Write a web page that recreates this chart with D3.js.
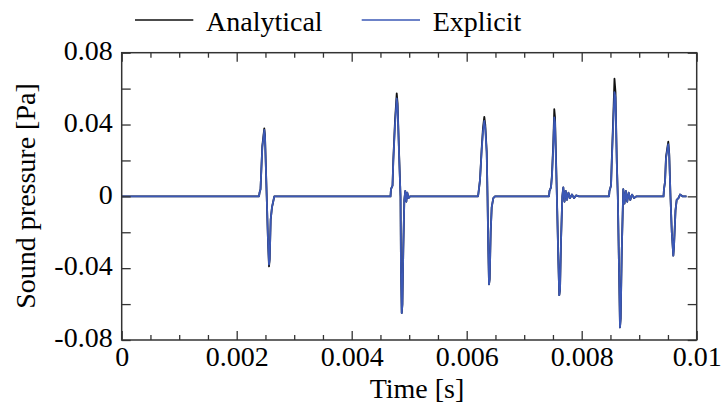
<!DOCTYPE html>
<html>
<head>
<meta charset="utf-8">
<script src="https://cdn.jsdelivr.net/npm/d3@7"></script>
<style>
  body { margin: 0; background: #fff; }
  text { font-family: "Liberation Serif", "Times New Roman", serif; fill: #000; }
</style>
</head>
<body>
<div id="chart"></div>
<script>
"use strict";

// time [s] of each sample, one line per pulse
var timeS = [
  0,
  0.002388, 0.002397, 0.002414, 0.002426, 0.002445, 0.002466, 0.002480, 0.002492,
  0.002522, 0.002544, 0.002562, 0.002574, 0.002591, 0.002614, 0.002628, 0.002654,
  0.004675, 0.004683, 0.004710, 0.004723, 0.004753, 0.004783, 0.004798, 0.004823, 0.004849,
  0.004857, 0.004870, 0.004882, 0.004897, 0.004915, 0.004932, 0.004950, 0.004967, 0.004988, 0.005014,
  0.006197, 0.006205, 0.006231, 0.006261, 0.006283, 0.006306, 0.006323, 0.006348,
  0.006362, 0.006376, 0.006388, 0.006400, 0.006417, 0.006435, 0.006463, 0.006492,
  0.007431, 0.007440, 0.007466, 0.007483, 0.007506, 0.007523, 0.007536, 0.007558, 0.007576, 0.007593,
  0.007610, 0.007623, 0.007640, 0.007663, 0.007680, 0.007701, 0.007722, 0.007744, 0.007770, 0.007797,
  0.007831, 0.007866, 0.007901, 0.007953,
  0.008475, 0.008483, 0.008510, 0.008523, 0.008550, 0.008570, 0.008588, 0.008610, 0.008628, 0.008649,
  0.008666, 0.008678, 0.008697, 0.008723, 0.008744, 0.008767, 0.008791, 0.008817, 0.008845, 0.008875,
  0.008910, 0.008953,
  0.009423, 0.009431, 0.009449, 0.009466, 0.009489, 0.009506, 0.009522, 0.009544,
  0.009567, 0.009593, 0.009605, 0.009631, 0.009652, 0.009683, 0.009710, 0.009753,
  0.009823
];

// sound pressure [Pa], analytical solution
var analytical = [
  0,
  0, 0.002, 0.004, 0.013, 0.028, 0.034, 0.0378, 0.034,
  0.0, -0.025, -0.039, -0.035, -0.013, -0.006, -0.004, 0,
  0, 0.004, 0.006, 0.020, 0.042, 0.0574, 0.052, 0.025, 0.0,
  -0.040, -0.065, -0.060, -0.030, -0.002, 0.003, -0.003, 0.002, -0.001, 0,
  0, 0.002, 0.009, 0.027, 0.038, 0.0443, 0.040, 0.025,
  0.0, -0.030, -0.049, -0.046, -0.020, -0.006, -0.001, 0,
  0, 0.003, 0.005, 0.012, 0.030, 0.0485, 0.044, 0.015, -0.010, -0.035,
  -0.055, -0.052, -0.025, 0.0, 0.005, -0.003, 0.003, -0.002, 0.002, -0.001,
  0.001, -0.001, 0.0005, 0,
  0, 0.003, 0.006, 0.020, 0.045, 0.0655, 0.058, 0.020, 0.0, -0.040,
  -0.073, -0.068, -0.030, 0.004, -0.004, 0.003, -0.003, 0.002, -0.002, 0.001,
  -0.001, 0,
  0, 0.004, 0.008, 0.022, 0.027, 0.0304, 0.024, 0.0,
  -0.020, -0.033, -0.028, -0.008, -0.002, -0.001, 0.001, 0,
  0
];

// sound pressure [Pa], explicit scheme
var explicit = [
  0,
  0, 0.002, 0.004, 0.013, 0.027, 0.033, 0.037, 0.033,
  0.0, -0.024, -0.038, -0.035, -0.013, -0.006, -0.004, 0,
  0, 0.004, 0.006, 0.019, 0.040, 0.0545, 0.050, 0.024, 0.0,
  -0.040, -0.065, -0.060, -0.030, -0.002, 0.003, -0.003, 0.002, -0.001, 0,
  0, 0.002, 0.009, 0.026, 0.036, 0.042, 0.038, 0.024,
  0.0, -0.030, -0.049, -0.046, -0.020, -0.006, -0.001, 0,
  0, 0.003, 0.005, 0.011, 0.028, 0.044, 0.041, 0.013, -0.011, -0.035,
  -0.055, -0.052, -0.025, 0.0, 0.005, -0.003, 0.003, -0.002, 0.002, -0.001,
  0.001, -0.001, 0.0005, 0,
  0, 0.003, 0.006, 0.019, 0.042, 0.058, 0.055, 0.019, 0.0, -0.040,
  -0.073, -0.068, -0.030, 0.004, -0.004, 0.003, -0.003, 0.002, -0.002, 0.001,
  -0.001, 0,
  0, 0.004, 0.008, 0.021, 0.026, 0.029, 0.023, 0.0,
  -0.020, -0.033, -0.028, -0.008, -0.002, -0.001, 0.001, 0,
  0
];

// ticks
var xTicks = [0, 0.002, 0.004, 0.006, 0.008, 0.01];
var xTickLabels = ["0", "0.002", "0.004", "0.006", "0.008", "0.01"];
var xMinorTicks = [0.0005, 0.001, 0.0015, 0.0025, 0.003, 0.0035, 0.0045, 0.005, 0.0055,
                   0.0065, 0.007, 0.0075, 0.0085, 0.009, 0.0095];
var yTicks = [-0.08, -0.04, 0, 0.04, 0.08];
var yTickLabels = ["-0.08", "-0.04", "0", "0.04", "0.08"];
var yMinorTicks = [-0.06, -0.02, 0.02, 0.06];

var seriesNames = ["Analytical", "Explicit"];
var seriesColors = ["#111111", "#3b58b6"];

// layout
var W = 721, H = 408;
var margin = { top: 52.7, right: 24.3, bottom: 68, left: 121.7 };
var w = W - margin.left - margin.right;
var h = H - margin.top - margin.bottom;

var x = d3.scaleLinear().domain([0, 0.01]).range([0, w]);
var y = d3.scaleLinear().domain([-0.08, 0.08]).range([h, 0]);

var svg = d3.select("#chart")
  .append("svg")
    .attr("width", W)
    .attr("height", H);

var g = svg.append("g")
    .attr("transform", "translate(" + margin.left + "," + margin.top + ")");

// data lines (analytical underneath, explicit on top)
var line = d3.line()
    .x(function(d, i) { return x(timeS[i]); })
    .y(function(d) { return y(d); });

[analytical, explicit].forEach(function(vals, k) {
  g.append("path")
      .datum(vals)
      .attr("d", line)
      .attr("fill", "none")
      .attr("stroke", seriesColors[k])
      .attr("stroke-width", 1.8)
      .attr("stroke-linejoin", "round");
});

// axes: all ticks point inward
function styleAxis(sel) {
  sel.select(".domain").remove();
  sel.selectAll(".tick line").attr("stroke", "#333").attr("stroke-width", 1.3);
  sel.selectAll(".tick text").style("font-size", "28px").attr("fill", "#000");
}

var xFmt = function(d) { return xTickLabels[xTicks.indexOf(d)]; };
var yFmt = function(d) { return yTickLabels[yTicks.indexOf(d)]; };

g.append("g")
    .attr("transform", "translate(0," + h + ")")
    .call(d3.axisBottom(x).tickValues(xTicks).tickFormat(xFmt).tickSize(-9).tickPadding(6))
    .call(styleAxis);
g.append("g")
    .attr("transform", "translate(0," + h + ")")
    .call(d3.axisBottom(x).tickValues(xMinorTicks).tickFormat("").tickSize(-5))
    .call(styleAxis);
g.append("g")
    .call(d3.axisTop(x).tickValues(xTicks).tickFormat("").tickSize(-9))
    .call(styleAxis);
g.append("g")
    .call(d3.axisTop(x).tickValues(xMinorTicks).tickFormat("").tickSize(-5))
    .call(styleAxis);

var yAxisG = g.append("g")
    .call(d3.axisLeft(y).tickValues(yTicks).tickFormat(yFmt).tickSize(-9).tickPadding(9))
    .call(styleAxis);
yAxisG.selectAll(".tick text").attr("dy", "0.24em");
g.append("g")
    .call(d3.axisLeft(y).tickValues(yMinorTicks).tickFormat("").tickSize(-9))
    .call(styleAxis);
g.append("g")
    .attr("transform", "translate(" + w + ",0)")
    .call(d3.axisRight(y).tickValues(yTicks.concat(yMinorTicks)).tickFormat("").tickSize(-9))
    .call(styleAxis);

// frame
g.append("rect")
    .attr("width", w)
    .attr("height", h)
    .attr("fill", "none")
    .attr("stroke", "#333")
    .attr("stroke-width", 1.5);

// axis titles
svg.append("text")
    .attr("x", 417)
    .attr("y", 398)
    .attr("text-anchor", "middle")
    .style("font-size", "28px")
    .text("Time [s]");

svg.append("text")
    .attr("transform", "translate(35,196) rotate(-90)")
    .attr("text-anchor", "middle")
    .style("font-size", "28px")
    .text("Sound pressure [Pa]");

// legend
var legendX = [135, 361.7];
var legend = svg.append("g");
seriesNames.forEach(function(name, i) {
  legend.append("line")
      .attr("x1", legendX[i]).attr("x2", legendX[i] + 58.3)
      .attr("y1", 20).attr("y2", 20)
      .attr("stroke", seriesColors[i])
      .attr("stroke-width", 1.6);
  legend.append("text")
      .attr("x", legendX[i] + 71)
      .attr("y", 31)
      .style("font-size", "28px")
      .text(name);
});
</script>
</body>
</html>
